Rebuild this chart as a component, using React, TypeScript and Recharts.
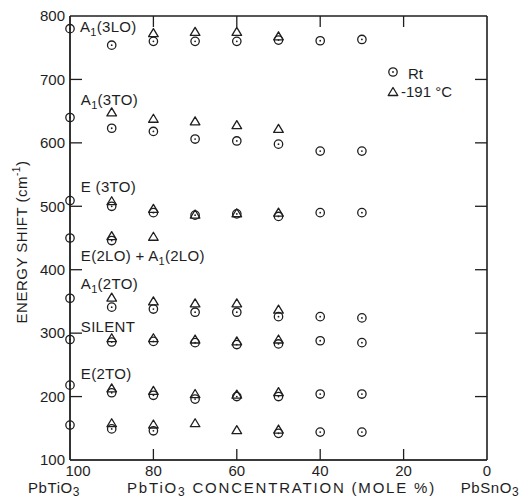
import { ScatterChart, Scatter, XAxis, YAxis, ReferenceDot, ReferenceLine, Legend } from 'recharts'

const INK = '#1e1e1e'
const FONT = '"Liberation Sans", Arial, sans-serif'

// PbTiO3 concentration (mole %) of each measured sample
const concentration = [100, 90, 80, 70, 60, 50, 40, 30]

// room temperature (Rt) shifts, cm-1, one array per phonon mode
const rtA1_3LO = [780, 754, 760, 760, 760, 762, 761, 763]
const rtA1_3TO = [640, 623, 618, 606, 603, 598, 587, 587]
const rtE_3TO = [509, 500, 490, 486, 488, 484, 490, 490]
const rtE_2LO = [450, 446, null, null, null, null, null, null]
const rtA1_2TO = [355, 341, 338, 333, 333, 326, 326, 324]
const rtSilent = [290, 286, 287, 285, 282, 283, 288, 285]
const rtE_2TO = [218, 206, 202, 196, 200, 200, 204, 204]
const rtLow = [155, 149, 146, null, null, 142, 144, 144]

// -191 °C shifts, cm-1
const coldA1_3LO = [null, null, 773, 775, 775, 768, null, null]
const coldA1_3TO = [null, 648, 638, 634, 628, 622, null, null]
const coldE_3TO = [null, 508, 496, 487, 489, 490, null, null]
const coldE_2LO = [null, 453, 452, null, null, null, null, null]
const coldA1_2TO = [null, 356, 350, 347, 347, 337, null, null]
const coldSilent = [null, 292, 292, 290, 287, 290, null, null]
const coldE_2TO = [null, 213, 209, 204, 203, 207, null, null]
const coldLow = [null, 158, 156, 158, 147, 148, null, null]

// mode annotations: text pieces and where they sit (data units)
const modePre = ['A', 'A', 'E (3TO)', 'E(2LO) + A', 'A', 'SILENT', 'E(2TO)']
const modeSub = ['1', '1', '', '1', '1', '', '']
const modePost = ['(3LO)', '(3TO)', '', '(2LO)', '(2TO)', '', '']
const modeConc = [97.6, 97.4, 97.4, 97.4, 97.4, 97.4, 97.4]
const modeShift = [782, 667, 530, 421, 378, 310, 236]

const xTicks = [100, 80, 60, 40, 20, 0]
const xInnerTicks = [80, 60, 40, 20]
const yTicks = [100, 200, 300, 400, 500, 600, 700, 800]
const yInnerTicks = [200, 300, 400, 500, 600, 700]
const xEdges = [100, 0]
const yEdges = [100, 800]

function toPoints(rows: (number | null)[][]) {
  const pts: { x: number; y: number }[] = []
  for (const row of rows)
    row.forEach((v, i) => { if (v != null) pts.push({ x: concentration[i], y: v }) })
  return pts
}

const rtPoints = toPoints([rtA1_3LO, rtA1_3TO, rtE_3TO, rtE_2LO, rtA1_2TO, rtSilent, rtE_2TO, rtLow])
const coldPoints = toPoints([coldA1_3LO, coldA1_3TO, coldE_3TO, coldE_2LO, coldA1_2TO, coldSilent, coldE_2TO, coldLow])

const txt = { fontFamily: FONT, fontSize: 15, fill: INK }

function Ring({ cx, cy }: any) {
  if (cx == null || cy == null) return null
  return (
    <g>
      <circle cx={cx} cy={cy} r={4.2} fill="none" stroke={INK} strokeWidth={1.3} />
      <circle cx={cx} cy={cy} r={0.9} fill={INK} />
    </g>
  )
}

function Tri({ cx, cy }: any) {
  if (cx == null || cy == null) return null
  return <path d={`M${cx},${cy - 4.5}L${cx + 4.8},${cy + 3.5}L${cx - 4.8},${cy + 3.5}Z`}
               fill="none" stroke={INK} strokeWidth={1.3} strokeLinejoin="round" />
}

// a grid line reduced to two short inward ticks, one at each end
function EdgeTicks({ x1, y1, x2, y2 }: any) {
  const s = { stroke: INK, strokeWidth: 1.3 }
  if (x1 === x2) {
    const top = Math.min(y1, y2), bot = Math.max(y1, y2)
    return <g><line x1={x1} x2={x1} y1={top} y2={top + 11} {...s} /><line x1={x1} x2={x1} y1={bot} y2={bot - 11} {...s} /></g>
  }
  const l = Math.min(x1, x2), r = Math.max(x1, x2)
  return <g><line y1={y1} y2={y1} x1={l} x2={l + 12} {...s} /><line y1={y1} y2={y1} x1={r} x2={r - 12} {...s} /></g>
}

function EndName({ x, y, base }: { x: number; y: number; base: string }) {
  return (
    <text x={x} y={y} textAnchor="middle" {...txt} letterSpacing={0.6}>
      {base}<tspan dy={3} fontSize={12}>3</tspan>
    </text>
  )
}

function ConcTick({ x, y, payload }: any) {
  const v = payload.value
  return (
    <g>
      <text x={x + (v === 100 ? 8 : 0)} y={y} dy="0.71em" textAnchor="middle" {...txt}>{v}</text>
      {v === 100 && <EndName x={x - 16} y={y + 28} base="PbTiO" />}
      {v === 0 && <EndName x={x + 3} y={y + 28} base="PbSnO" />}
    </g>
  )
}

function XTitle({ viewBox }: any) {
  const { x, y, width } = viewBox
  return (
    <text x={x + width / 2 + 3} y={y + 33} textAnchor="middle" {...txt} letterSpacing={1.8}>
      PbTiO<tspan dy={3} fontSize={12}>3</tspan><tspan dy={-3}> CONCENTRATION (MOLE %)</tspan>
    </text>
  )
}

function YTitle({ viewBox }: any) {
  const { x, y, height } = viewBox
  const cx = x - 48
  const cy = y + height / 2 + 4
  return (
    <text x={cx} y={cy} textAnchor="middle" dominantBaseline="central" transform={`rotate(-90 ${cx} ${cy})`}
          {...txt} letterSpacing={0.5}>
      ENERGY SHIFT (cm<tspan dy={-5} fontSize={10}>-1</tspan><tspan dy={5}>)</tspan>
    </text>
  )
}

function ModeLabel({ cx, cy, i }: any) {
  if (cx == null || cy == null) return null
  return (
    <text x={cx} y={cy + 5} {...txt} letterSpacing={0.3}>
      {modePre[i]}
      {modeSub[i] && <tspan dy={4} fontSize={11}>{modeSub[i]}</tspan>}
      {modePost[i] && <tspan dy={-4}>{modePost[i]}</tspan>}
    </text>
  )
}

function LegendBox() {
  return (
    <svg width={80} height={40}>
      <Ring cx={7} cy={10} />
      <text x={22} y={17} {...txt}>Rt</text>
      <Tri cx={7} cy={30} />
      <text x={15} y={35} {...txt}>-191 °C</text>
    </svg>
  )
}

export default function App() {
  return (
    <div style={{ position: 'absolute', left: 0, top: 0, background: '#fff' }}>
      <ScatterChart width={521} height={500} margin={{ top: 16, right: 34, bottom: 39, left: 69 }}>
        <XAxis xAxisId={0} type="number" dataKey="x" domain={[0, 100]} reversed
               ticks={xTicks} height={1} tickLine={false} tickSize={0} tickMargin={5}
               stroke={INK} tick={<ConcTick />} label={{ content: <XTitle /> }} />
        <YAxis yAxisId={0} type="number" dataKey="y" domain={[100, 800]}
               ticks={yTicks} width={1} tickLine={false} tickSize={0} tickMargin={5}
               stroke={INK} tick={{ ...txt }} label={{ content: <YTitle /> }} />
        {xEdges.map(v => <ReferenceLine key={'fx' + v} x={v} stroke={INK} strokeWidth={1.6} />)}
        {yEdges.map(v => <ReferenceLine key={'fy' + v} y={v} stroke={INK} strokeWidth={1.6} />)}
        {xInnerTicks.map(v => <ReferenceLine key={'tx' + v} x={v} shape={EdgeTicks} />)}
        {yInnerTicks.map(v => <ReferenceLine key={'ty' + v} y={v} shape={EdgeTicks} />)}
        <Legend layout="vertical" align="center" verticalAlign="middle"
                wrapperStyle={{ left: 386, top: 62, width: 80, height: 40 }} content={() => <LegendBox />} />
        <Scatter name="Rt" data={rtPoints} shape={<Ring />} isAnimationActive={false} />
        <Scatter name="-191 °C" data={coldPoints} shape={<Tri />} isAnimationActive={false} />
        {modePre.map((_, i) => (
          <ReferenceDot key={i} x={modeConc[i]} y={modeShift[i]} r={0} ifOverflow="visible"
                        shape={(p: any) => <ModeLabel {...p} i={i} />} />
        ))}
      </ScatterChart>
    </div>
  )
}
